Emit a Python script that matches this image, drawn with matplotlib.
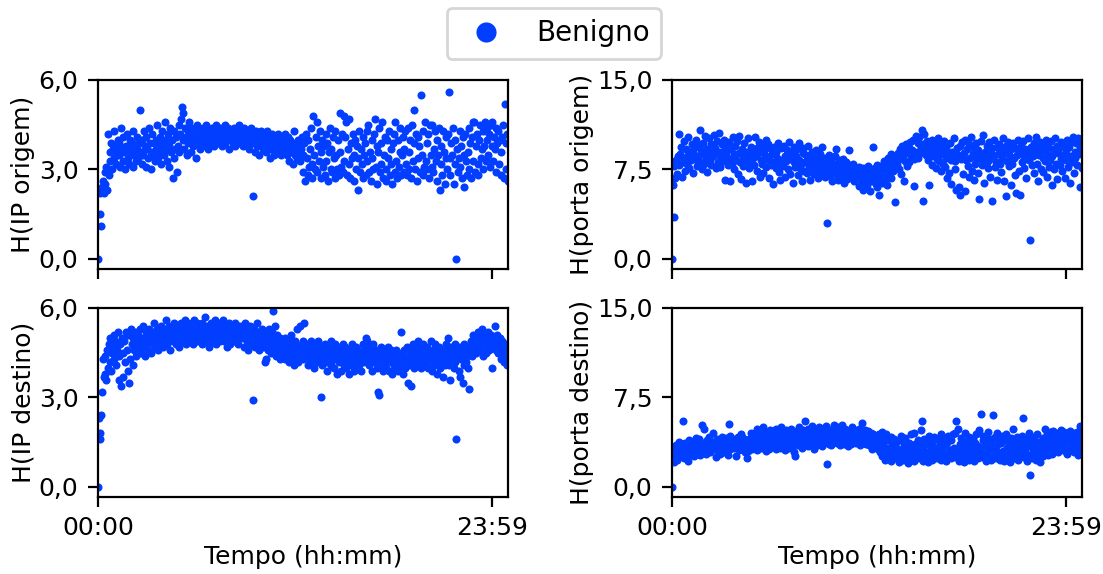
import numpy as np
import matplotlib
matplotlib.use("Agg")
import matplotlib.pyplot as plt

# Entropy per 3-minute window over one day (benign traffic)
ip_origem = [
    0.0, 2.3, 1.5, 2.2, 1.1, 2.4, 2.6, 2.2, 2.9, 2.5, 3.1, 2.3, 4.2, 2.8, 3.6, 3.3, 3.9, 3.0, 3.7, 4.3, 3.4, 3.8, 3.2, 3.6, 4.0,
    3.5, 3.9, 3.1, 4.4, 3.7, 3.3, 4.1, 3.6, 3.0, 3.8, 4.2, 3.4, 3.7, 3.2, 4.0, 3.6, 3.9, 3.1, 4.3, 3.5, 3.8, 3.3, 4.1, 3.7, 3.4,
    3.9, 5.0, 3.6, 3.2, 4.0, 3.5, 4.3, 3.8, 3.1, 4.1, 3.7, 3.4, 4.4, 3.9, 3.0, 3.6, 4.2, 3.5, 3.9, 3.3, 4.0, 3.7, 4.5, 3.4, 3.8,
    4.1, 3.6, 3.2, 4.3, 3.9, 3.5, 4.0, 4.6, 3.7, 3.3, 4.2, 3.8, 3.1, 4.4, 3.6, 4.0, 2.7, 3.4, 4.3, 3.7, 4.1, 2.9, 3.8, 4.5, 3.6,
    4.2, 4.7, 5.1, 4.0, 4.9, 3.7, 4.4, 4.1, 3.5, 4.3, 3.9, 4.6, 4.2, 3.6, 4.0, 4.4, 3.8, 4.3, 4.1, 3.4, 4.5, 3.9, 4.2, 4.0, 3.7,
    4.3, 4.1, 3.8, 4.4, 4.0, 4.2, 3.9, 4.5, 4.1, 3.7, 4.3, 4.0, 4.2, 3.9, 4.4, 4.1, 3.8, 4.3, 4.0, 4.5, 4.2, 3.9, 4.1, 4.4, 4.0,
    4.2, 3.8, 4.3, 4.1, 4.5, 3.9, 4.2, 4.0, 4.4, 3.7, 4.1, 4.3, 4.0, 4.2, 3.9, 4.4, 4.1, 3.8, 4.3, 4.0, 4.2, 4.5, 3.9, 4.1, 4.3,
    4.0, 4.2, 3.8, 4.4, 4.1, 3.9, 4.3, 4.0, 4.2, 3.7, 4.1, 4.4, 3.9, 4.2, 2.1, 4.0, 3.6, 4.3, 4.1, 3.8, 4.2, 3.5, 4.0, 4.3, 3.9,
    4.1, 3.7, 4.2, 3.9, 4.0, 3.6, 4.3, 3.8, 4.1, 3.4, 4.0, 3.7, 4.2, 3.9, 3.5, 4.1, 3.8, 4.0, 3.6, 4.2, 3.9, 3.7, 4.1, 3.5, 3.8,
    4.0, 3.6, 3.9, 4.2, 3.7, 3.5, 4.1, 3.8, 3.3, 4.0, 3.6, 3.9, 3.2, 3.7, 4.3, 3.5, 3.8, 3.4, 4.0, 3.6, 3.9, 3.3, 3.7, 4.1, 3.5,
    2.9, 3.9, 2.6, 4.2, 3.4, 2.8, 4.0, 3.1, 3.7, 4.4, 3.2, 2.7, 4.8, 3.5, 3.0, 4.1, 4.6, 2.9, 3.8, 3.3, 4.3, 2.7, 3.6, 4.0, 3.1,
    3.8, 2.8, 4.2, 3.3, 3.9, 2.6, 3.6, 4.4, 3.0, 3.7, 2.9, 4.1, 3.4, 2.7, 4.3, 3.5, 3.0, 4.0, 2.8, 4.9, 3.6, 3.1, 4.2, 2.9, 4.8,
    3.3, 4.1, 4.6, 2.8, 3.7, 3.2, 4.7, 2.7, 3.9, 3.4, 4.2, 2.6, 3.5, 4.0, 3.0, 3.8, 2.3, 3.4, 4.3, 2.9, 3.7, 3.2, 2.7, 4.1, 3.5,
    3.9, 2.8, 4.3, 3.3, 4.5, 2.9, 3.6, 2.6, 4.0, 3.4, 3.0, 4.2, 4.7, 3.1, 3.8, 2.5, 3.6, 4.4, 2.9, 3.9, 3.2, 4.6, 2.7, 3.5, 4.1,
    3.0, 2.6, 4.0, 3.4, 4.3, 2.8, 3.7, 3.2, 2.5, 3.9, 4.2, 2.9, 4.6, 3.3, 2.7, 4.0, 3.1, 4.4, 3.6, 2.8, 3.5, 4.1, 2.9, 3.7, 4.3,
    3.2, 2.8, 4.4, 3.6, 3.0, 4.0, 2.7, 4.5, 3.3, 3.9, 5.0, 3.0, 4.2, 2.6, 4.1, 3.4, 3.8, 2.9, 5.5, 3.5, 2.8, 4.3, 3.1, 4.6, 3.3,
    3.9, 3.0, 4.2, 2.7, 4.5, 3.5, 3.1, 4.5, 2.9, 3.7, 4.3, 3.3, 2.6, 4.0, 3.5, 4.4, 2.3, 3.8, 3.2, 2.8, 4.3, 3.6, 2.5, 4.1, 3.4,
    3.0, 4.2, 5.6, 3.4, 2.8, 3.9, 3.5, 4.4, 2.5, 3.2, 4.0, 0.0, 3.7, 2.9, 3.4, 4.3, 3.1, 3.8, 2.7, 4.1, 3.5, 2.4, 4.2, 3.3, 2.8,
    3.6, 4.4, 3.0, 3.9, 2.7, 4.1, 4.6, 3.3, 4.6, 2.9, 3.8, 4.2, 3.2, 2.8, 4.0, 4.5, 3.4, 3.7, 4.3, 3.0, 3.8, 4.6, 3.3, 4.0, 4.4,
    3.5, 4.2, 3.1, 4.5, 3.8, 4.6, 3.3, 4.1, 3.7, 4.4, 2.9, 3.9, 4.3, 3.2, 4.0, 3.6, 2.8, 4.1, 4.5, 2.7, 5.2, 3.9, 3.0, 4.2, 2.6,
]

porta_origem = [
    0.0, 6.2, 3.5, 7.8, 6.8, 8.3, 7.1, 8.6, 10.5, 7.9, 8.8, 9.4, 6.9, 8.1, 9.9, 8.5, 7.4, 9.2, 8.0, 10.2, 8.7, 7.6, 9.0, 8.3, 9.6,
    8.9, 7.2, 9.3, 8.4, 10.0, 8.6, 7.8, 9.5, 8.2, 10.8, 9.1, 7.5, 8.8, 9.7, 8.0, 10.3, 8.5, 9.2, 7.3, 8.9, 10.1, 8.3, 9.6, 7.9, 9.0,
    8.6, 10.4, 9.3, 7.6, 8.8, 9.9, 8.1, 10.6, 9.0, 7.7, 8.5, 9.6, 8.2, 10.0, 9.4, 6.6, 8.7, 9.1, 7.9, 9.8, 8.4, 6.5, 9.2, 8.0, 10.2,
    8.8, 7.5, 9.5, 8.3, 9.9, 7.1, 8.9, 10.3, 8.1, 6.7, 9.2, 8.6, 7.8, 9.7, 8.4, 6.4, 9.0, 8.2, 10.1, 7.6, 8.7, 9.4, 6.5, 8.5, 9.1,
    7.9, 10.2, 8.6, 9.3, 7.4, 8.9, 9.8, 6.9, 8.3, 9.5, 8.0, 7.2, 9.1, 8.7, 10.0, 7.7, 8.4, 9.6, 6.8, 8.2, 9.2, 7.9, 8.8, 6.3, 9.4,
    8.1, 7.6, 9.0, 8.5, 9.7, 7.3, 8.3, 6.6, 9.3, 8.0, 7.8, 9.5, 8.6, 6.9, 8.2, 9.1, 7.5, 8.7, 9.8, 7.1, 8.4, 9.0, 6.4, 8.1, 9.4,
    7.7, 8.6, 9.2, 7.0, 8.3, 9.7, 7.6, 8.0, 6.5, 8.9, 9.3, 7.4, 8.1, 8.7, 7.2, 9.5, 8.4, 7.8, 6.6, 8.2, 9.0, 7.5, 8.6, 7.1, 8.0,
    9.1, 7.3, 8.4, 6.8, 7.9, 8.8, 7.2, 9.4, 8.1, 7.6, 8.5, 6.9, 7.8, 8.3, 3.0, 7.4, 8.7, 7.0, 8.2, 7.7, 6.5, 8.0, 7.3, 8.6, 9.2,
    7.1, 7.8, 6.6, 8.3, 7.5, 6.9, 7.9, 7.2, 8.4, 6.4, 7.6, 7.0, 8.1, 6.7, 7.4, 7.9, 9.1, 7.3, 7.7, 6.8, 8.0, 7.1, 6.5, 7.5, 7.0,
    6.8, 7.3, 6.1, 7.7, 6.9, 7.2, 6.4, 7.6, 5.8, 7.0, 6.6, 7.4, 6.2, 7.8, 6.9, 7.1, 5.7, 7.5, 6.5, 7.3, 9.4, 6.8, 7.6, 6.3, 7.9,
    6.0, 7.2, 5.4, 6.7, 7.8, 6.4, 7.5, 6.9, 8.2, 6.6, 7.3, 7.9, 6.2, 8.5, 7.0, 7.6, 8.8, 6.8, 8.1, 7.4, 8.6, 7.7, 4.8, 8.3, 7.9,
    8.9, 7.5, 9.2, 8.4, 7.1, 9.5, 8.7, 6.5, 9.0, 8.2, 9.6, 7.8, 8.9, 9.3, 8.1, 9.8, 8.6, 9.1, 10.0, 8.4, 6.1, 8.8, 10.3, 9.0, 8.5,
    9.7, 10.2, 8.9, 9.4, 10.8, 9.6, 4.9, 10.5, 9.1, 8.7, 9.9, 8.3, 9.5, 6.2, 9.2, 8.8, 10.0, 7.9, 9.3, 8.6, 9.7, 7.6, 8.4, 9.1, 10.1,
    8.2, 9.6, 7.4, 8.8, 9.2, 8.0, 9.9, 7.7, 8.5, 9.4, 6.8, 8.9, 7.2, 9.7, 8.3, 6.3, 9.0, 8.6, 10.1, 7.5, 8.2, 5.8, 9.3, 8.7, 6.0,
    9.5, 5.4, 8.4, 9.8, 7.1, 8.9, 10.0, 5.7, 8.3, 9.2, 7.8, 6.9, 9.6, 8.5, 10.2, 7.4, 8.8, 9.3, 6.6, 8.0, 9.7, 8.4, 7.2, 9.1, 5.0,
    8.6, 9.9, 7.9, 8.3, 10.4, 6.4, 9.0, 8.7, 9.5, 7.6, 8.2, 9.8, 6.9, 8.9, 4.9, 9.3, 8.5, 10.0, 7.7, 8.1, 9.4, 6.6, 8.8, 9.6, 8.0,
    7.3, 9.1, 8.4, 10.1, 6.5, 8.9, 9.5, 5.3, 8.2, 9.8, 7.8, 8.6, 9.2, 6.2, 8.0, 9.7, 8.5, 7.0, 9.3, 5.5, 8.7, 10.0, 7.4, 5.4, 8.9,
    9.5, 8.1, 9.9, 7.6, 8.4, 9.2, 6.8, 8.8, 10.1, 8.3, 9.0, 1.6, 9.4, 7.9, 8.6, 9.7, 7.2, 8.9, 10.2, 8.0, 9.3, 6.5, 8.7, 9.8, 7.5,
    9.1, 8.5, 7.3, 9.6, 8.2, 10.0, 6.9, 8.8, 9.4, 7.7, 8.3, 9.9, 6.2, 8.6, 9.2, 7.5, 10.1, 8.0, 9.5, 6.7, 8.9, 9.3, 7.9, 8.4, 9.8,
    7.4, 8.7, 9.6, 6.8, 9.1, 8.3, 10.0, 7.7, 9.4, 8.6, 6.4, 9.8, 8.1, 10.2, 7.2, 9.0, 8.5, 9.7, 7.9, 10.1, 8.8, 9.3, 6.0, 9.9, 7.6,
]

ip_destino = [
    0.0, 2.3, 1.8, 1.6, 2.4, 3.2, 4.3, 3.7, 4.4, 3.8, 3.6, 4.6, 4.0, 4.8, 4.2, 5.0, 3.9, 4.5, 4.7, 5.1, 4.3, 4.9, 4.1, 4.6, 5.2,
    4.4, 3.6, 4.8, 3.4, 5.0, 4.5, 3.7, 4.9, 4.2, 5.2, 4.6, 3.9, 5.1, 3.5, 4.3, 5.3, 4.8, 4.1, 5.0, 4.6, 5.2, 4.4, 4.9, 4.7, 5.1,
    4.8, 5.3, 4.5, 5.0, 4.7, 5.4, 4.9, 4.4, 5.2, 4.8, 5.1, 4.6, 5.3, 4.9, 5.0, 4.5, 5.2, 4.8, 5.5, 4.7, 5.1, 4.9, 5.3, 4.6, 5.0,
    5.2, 4.8, 5.4, 5.0, 4.7, 5.3, 4.9, 5.1, 5.6, 4.8, 5.2, 5.0, 5.4, 4.6, 5.1, 5.3, 4.9, 5.5, 5.0, 5.2, 4.8, 5.4, 5.1, 4.7, 5.3,
    5.0, 5.5, 5.2, 4.9, 5.4, 5.1, 5.6, 4.8, 5.3, 5.0, 5.5, 5.2, 4.9, 5.4, 5.1, 5.3, 4.8, 5.6, 5.0, 5.2, 5.5, 4.9, 5.3, 5.1, 5.4,
    5.2, 4.8, 5.5, 5.0, 5.3, 5.7, 4.9, 5.2, 5.4, 5.1, 4.7, 5.3, 5.0, 5.5, 5.2, 4.9, 5.4, 5.1, 5.6, 4.8, 5.3, 5.0, 5.2, 5.5, 4.9,
    5.3, 5.1, 5.6, 4.9, 5.2, 5.4, 5.0, 4.7, 5.3, 5.5, 5.1, 4.8, 5.2, 5.4, 5.0, 5.3, 4.9, 5.5, 5.1, 5.2, 4.8, 5.4, 5.0, 5.3, 5.1,
    5.4, 5.0, 5.2, 4.7, 5.5, 5.1, 4.9, 5.3, 4.6, 5.0, 5.4, 4.8, 5.2, 5.1, 2.9, 5.3, 4.7, 5.0, 5.5, 4.9, 5.2, 4.6, 5.1, 4.8, 5.3,
    5.0, 4.7, 5.2, 4.2, 4.3, 4.9, 5.1, 4.6, 5.3, 4.8, 5.0, 4.5, 5.2, 5.9, 4.7, 5.4, 4.9, 4.4, 5.1, 4.6, 4.8, 5.0, 4.3, 4.7, 4.9,
    4.5, 4.8, 4.3, 5.0, 4.6, 4.4, 4.9, 4.2, 4.7, 4.5, 5.1, 4.3, 4.8, 4.6, 4.1, 4.9, 4.4, 5.3, 4.7, 4.2, 4.6, 5.4, 4.5, 4.8, 4.3,
    4.9, 5.5, 4.6, 4.4, 4.8, 4.1, 4.7, 4.5, 4.2, 4.9, 4.6, 4.3, 4.7, 4.0, 4.8, 4.4, 4.6, 4.2, 4.9, 4.5, 4.3, 3.0, 4.7, 4.1, 4.6,
    4.4, 4.8, 4.2, 4.6, 3.9, 4.5, 4.3, 4.7, 4.1, 4.9, 4.4, 4.6, 4.0, 4.8, 4.3, 4.5, 3.8, 4.7, 4.2, 4.4, 4.6, 3.9, 4.5, 4.8, 4.1,
    4.3, 4.7, 4.0, 4.5, 4.2, 4.6, 3.8, 4.4, 4.1, 4.8, 4.3, 3.9, 4.5, 4.2, 4.7, 4.0, 4.4, 4.6, 4.1, 4.3, 3.9, 4.5, 4.8, 4.2, 4.4,
    4.6, 5.0, 4.2, 4.9, 4.4, 4.1, 4.7, 4.3, 4.5, 3.9, 4.8, 4.2, 4.4, 4.6, 4.0, 4.5, 3.2, 3.1, 4.3, 4.7, 4.1, 4.4, 3.9, 4.6, 4.2,
    4.5, 4.0, 4.3, 4.7, 3.9, 4.4, 4.2, 4.6, 3.8, 4.5, 4.1, 4.3, 4.0, 4.6, 4.2, 3.9, 4.4, 4.4, 4.1, 5.2, 4.5, 3.8, 4.2, 4.6, 4.0,
    4.3, 4.7, 3.5, 4.4, 4.1, 4.6, 3.4, 4.2, 4.8, 4.5, 4.0, 4.3, 4.7, 4.1, 4.4, 4.9, 4.2, 4.6, 4.0, 4.5, 4.3, 4.8, 4.1, 4.4, 4.6,
    4.2, 4.7, 4.0, 4.5, 4.3, 4.9, 3.9, 4.4, 4.6, 4.1, 4.8, 4.2, 4.5, 3.8, 4.3, 4.7, 4.0, 4.4, 4.6, 4.2, 3.7, 4.5, 4.1, 4.8, 4.3,
    4.6, 5.0, 4.1, 4.4, 3.6, 4.7, 4.3, 4.5, 4.0, 4.8, 4.2, 1.6, 4.6, 4.4, 3.9, 4.7, 3.7, 4.3, 4.5, 3.5, 4.8, 4.1, 4.6, 4.2, 4.4,
    4.0, 3.3, 4.5, 4.7, 4.9, 4.4, 5.1, 4.6, 4.8, 5.0, 4.5, 4.7, 5.2, 4.9, 4.6, 5.0, 4.8, 5.3, 4.4, 4.9, 5.1, 4.7, 4.5, 5.0, 4.8,
    5.2, 4.6, 4.9, 5.1, 4.7, 4.0, 5.0, 4.8, 5.4, 4.6, 4.9, 5.1, 4.5, 4.8, 5.0, 4.3, 4.7, 4.9, 4.5, 4.2, 4.8, 4.4, 4.6, 4.1, 4.3,
]

porta_destino = [
    0.0, 2.5, 2.1, 3.2, 2.8, 3.5, 2.3, 3.0, 3.8, 2.6, 3.3, 2.9, 3.6, 5.5, 2.4, 3.1, 3.7, 2.7, 3.4, 3.0, 2.2, 3.9, 3.2, 2.8, 3.5,
    3.1, 3.8, 2.6, 3.4, 4.1, 2.9, 3.6, 3.2, 4.0, 2.7, 3.5, 3.0, 5.2, 3.7, 4.9, 3.3, 2.8, 3.9, 3.5, 3.1, 4.2, 2.9, 3.6, 3.3, 3.8,
    4.5, 3.2, 3.7, 2.5, 3.4, 4.0, 3.0, 3.6, 2.8, 3.9, 3.3, 4.2, 3.5, 2.9, 3.8, 3.1, 4.1, 3.4, 2.7, 5.3, 4.3, 3.2, 3.9, 3.5, 3.6,
    3.8, 3.3, 4.0, 2.6, 3.6, 4.2, 3.1, 3.9, 3.5, 4.4, 3.2, 3.7, 4.1, 3.4, 2.9, 3.8, 2.4, 3.6, 3.0, 4.0, 3.5, 4.5, 3.2, 3.9, 4.2,
    3.4, 4.5, 3.8, 4.9, 3.1, 4.2, 3.6, 4.7, 3.3, 4.4, 3.9, 5.0, 3.5, 4.1, 3.0, 4.6, 3.7, 4.3, 3.2, 4.8, 3.9, 4.5, 3.4, 4.0, 4.7,
    3.6, 4.9, 3.2, 4.4, 3.8, 4.7, 3.3, 4.1, 5.0, 3.5, 4.6, 3.9, 3.1, 4.3, 4.8, 3.6, 4.0, 3.3, 4.5, 3.8, 4.9, 3.4, 4.2, 2.9, 4.6,
    2.6, 3.9, 4.7, 3.5, 4.2, 5.0, 3.7, 4.4, 3.3, 4.8, 3.9, 4.5, 5.5, 3.6, 4.1, 4.9, 3.4, 4.6, 3.8, 4.3, 5.1, 3.7, 4.4, 3.2, 4.7,
    4.0, 4.8, 3.5, 4.3, 5.0, 3.8, 4.5, 3.4, 4.9, 4.1, 3.7, 4.6, 5.1, 3.9, 1.9, 4.4, 3.6, 4.8, 4.2, 3.5, 4.7, 4.0, 5.2, 3.8, 4.3,
    4.6, 3.7, 5.0, 4.1, 3.5, 4.8, 3.9, 5.2, 4.3, 3.6, 4.5, 4.9, 3.8, 4.2, 3.4, 4.7, 4.0, 4.6, 3.6, 5.0, 4.3, 3.9, 4.8, 4.1, 3.7,
    4.5, 3.8, 4.9, 4.2, 3.5, 4.6, 5.4, 4.0, 3.7, 4.4, 4.8, 3.6, 4.3, 3.9, 4.7, 3.5, 4.1, 4.5, 3.8, 3.2, 4.4, 3.6, 4.2, 3.9, 3.4,
    4.1, 3.2, 4.4, 2.9, 3.7, 4.6, 2.6, 3.5, 4.0, 2.3, 3.3, 4.4, 2.8, 3.9, 2.5, 3.1, 4.2, 2.2, 3.6, 2.9, 4.0, 2.4, 3.4, 3.8, 2.7,
    3.2, 2.1, 3.9, 2.6, 4.3, 3.0, 2.3, 3.5, 2.8, 4.1, 2.5, 3.3, 2.0, 3.7, 3.1, 2.4, 4.4, 2.9, 3.4, 2.2, 4.5, 3.6, 2.6, 3.0, 3.9,
    2.4, 3.5, 2.8, 4.8, 5.5, 2.2, 3.3, 4.0, 2.6, 3.8, 2.9, 2.1, 3.6, 4.3, 2.5, 3.1, 3.9, 2.3, 3.4, 4.2, 2.7, 3.2, 2.4, 4.0, 3.0,
    2.6, 3.7, 4.4, 2.3, 3.2, 2.9, 4.1, 2.5, 3.5, 2.2, 3.8, 4.3, 2.7, 3.1, 2.4, 3.9, 2.8, 4.4, 3.3, 4.5, 2.5, 5.5, 3.0, 4.9, 2.2,
    3.6, 2.4, 4.1, 2.9, 3.3, 2.1, 3.8, 4.5, 2.6, 3.2, 3.9, 2.3, 4.2, 2.8, 3.5, 2.5, 4.0, 3.1, 2.2, 3.7, 4.4, 2.7, 3.4, 2.4, 4.8,
    3.0, 6.1, 2.5, 3.9, 4.3, 2.8, 3.4, 2.2, 4.1, 3.1, 4.6, 2.6, 3.6, 2.3, 4.0, 3.3, 6.0, 2.7, 4.2, 2.4, 4.5, 3.5, 2.9, 3.8, 2.3,
    3.7, 2.5, 4.3, 3.0, 2.2, 3.9, 2.8, 4.4, 3.3, 2.6, 3.6, 2.1, 4.1, 3.1, 2.7, 4.9, 3.4, 2.4, 3.8, 2.9, 4.2, 2.3, 3.5, 4.0, 2.6,
    3.2, 4.3, 5.8, 2.5, 3.7, 2.9, 4.0, 2.2, 3.4, 4.5, 2.7, 1.0, 3.9, 2.4, 3.1, 4.2, 2.8, 3.6, 2.3, 4.4, 3.0, 2.6, 3.8, 2.1, 3.5,
    3.0, 4.1, 2.6, 3.7, 4.9, 2.9, 3.4, 4.4, 2.7, 3.9, 4.6, 3.2, 4.2, 2.8, 4.7, 3.5, 4.0, 3.1, 4.5, 3.8, 2.9, 4.3, 3.6, 4.8, 3.3,
    4.1, 3.5, 4.6, 3.0, 4.4, 3.8, 2.8, 4.2, 3.6, 4.7, 3.1, 4.0, 3.4, 4.5, 2.9, 3.9, 4.3, 3.2, 4.6, 2.7, 3.7, 4.1, 5.1, 3.3, 2.8,
]

series = [ip_origem, porta_origem, ip_destino, porta_destino]
ylabels = ["H(IP origem)", "H(porta origem)", "H(IP destino)", "H(porta destino)"]
yticks_ip = [0.0, 3.0, 6.0]
yticks_porta = [0.0, 7.5, 15.0]
xtick_min = [0, 1439]
xtick_labels = ["00:00", "23:59"]
passo_min = 3  # one sample every 3 minutes

cor = "#023eff"
plt.rcParams["font.family"] = "DejaVu Sans"
plt.rcParams["font.size"] = 9

W, H = 1103, 574
fig = plt.figure(figsize=(W / 200, H / 200), dpi=200)

# axes boxes in pixels: (left, top, right, bottom)
caixas = [(98, 80, 508, 269), (672, 80, 1082, 269),
          (98, 308, 508, 497), (672, 308, 1082, 497)]

for i, (vals, lab, cx) in enumerate(zip(series, ylabels, caixas)):
    l, t, r, b = cx
    ax = fig.add_axes([l / W, 1 - b / H, (r - l) / W, (b - t) / H])
    x = np.arange(len(vals)) * passo_min
    ax.plot(x, vals, "o", color=cor, markersize=2.9, markeredgewidth=0,
            linestyle="none", label="Benigno" if i == 0 else None)
    ax.set_xlim(0, 1497)
    ticks = yticks_ip if i % 2 == 0 else yticks_porta
    ax.set_ylim(-ticks[-1] * 0.056, ticks[-1])
    ax.set_yticks(ticks)
    ax.set_yticklabels([f"{v:.1f}".replace(".", ",") for v in ticks])
    ax.set_xticks(xtick_min)
    if i >= 2:
        ax.set_xticklabels(xtick_labels)
        ax.set_xlabel("Tempo (hh:mm)", labelpad=1.5)
    else:
        ax.set_xticklabels([])
    ax.set_ylabel(lab, labelpad=1.2)

fig.legend(loc="upper center", bbox_to_anchor=(0.502, 1.0), borderaxespad=0.3,
           fontsize=10, markerscale=2.5, handletextpad=0.8)

fig.savefig("out.png", dpi=200)
